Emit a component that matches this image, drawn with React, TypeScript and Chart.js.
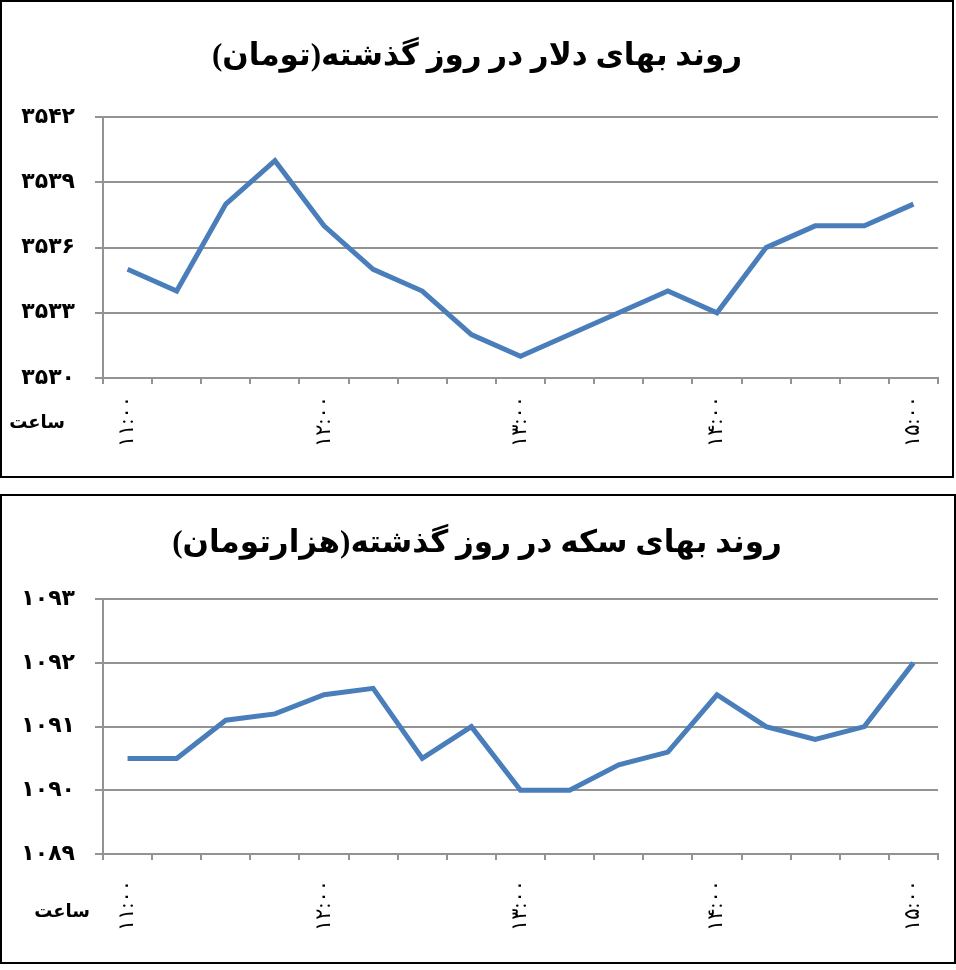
import React, { useEffect, useRef } from "react";
import { Chart, registerables } from "chart.js";

Chart.register(...registerables);

// ---- data ----
const hours: string[] = [
  "۱۱:۰۰", "۱۱:۱۵", "۱۱:۳۰", "۱۱:۴۵",
  "۱۲:۰۰", "۱۲:۱۵", "۱۲:۳۰", "۱۲:۴۵",
  "۱۳:۰۰", "۱۳:۱۵", "۱۳:۳۰", "۱۳:۴۵",
  "۱۴:۰۰", "۱۴:۱۵", "۱۴:۳۰", "۱۴:۴۵",
  "۱۵:۰۰",
];
const dollarValues: number[] = [
  3535, 3534, 3538, 3540, 3537, 3535, 3534, 3532, 3531,
  3532, 3533, 3534, 3533, 3536, 3537, 3537, 3538,
];
const coinValues: number[] = [
  1090.5, 1090.5, 1091.1, 1091.2, 1091.5, 1091.6, 1090.5, 1091, 1090,
  1090, 1090.4, 1090.6, 1091.5, 1091, 1090.8, 1091, 1092,
];
const dollarTitle = "روند بهای دلار در روز گذشته(تومان)";
const coinTitle = "روند بهای سکه در روز گذشته(هزارتومان)";
const xAxisName = "ساعت";
const dollarAxis = { min: 3530, max: 3542, step: 3 };
const coinAxis = { min: 1089, max: 1093, step: 1 };

const FONT = "'Times New Roman', 'Liberation Serif', 'DejaVu Sans', serif";
const GRID = "#939393";
const LINE = "#4a7ebb";

const faDigits = (v: number | string) =>
  String(v).replace(/\d/g, (d) => "۰۱۲۳۴۵۶۷۸۹"[Number(d)]);

type BoxProps = {
  top: number;
  width: number;
  height: number;
  title: string;
  values: number[];
  axis: { min: number; max: number; step: number };
  titlePad: { top: number; bottom: number };
  xHeight: number;
  nameGap: number;
  nameDy: number;
  tickPad: number;
};

const PAD_LEFT = 14;

function ChartBox(p: BoxProps) {
  const ref = useRef<HTMLCanvasElement | null>(null);
  useEffect(() => {
    if (!ref.current) return;
    const namePlugin = {
      id: "axisName",
      afterDraw(chart: any) {
        const xs = chart.scales.x;
        const ctx = chart.ctx;
        ctx.save();
        ctx.font = `bold 18px ${FONT}`;
        ctx.fillStyle = "#000";
        ctx.textAlign = "right";
        ctx.textBaseline = "middle";
        ctx.fillText(xAxisName, xs.left - p.nameGap, xs.top + p.nameDy);
        ctx.restore();
      },
    };
    const chart = new Chart(ref.current, {
      type: "line",
      data: {
        labels: hours,
        datasets: [
          {
            data: p.values,
            borderColor: LINE,
            borderWidth: 5,
            pointRadius: 0,
            tension: 0,
            fill: false,
            borderJoinStyle: "miter",
          },
        ],
      },
      options: {
        animation: false,
        responsive: false,
        devicePixelRatio: 1,
        layout: { padding: { left: PAD_LEFT, right: p.width - 936, top: 0, bottom: 0 } },
        plugins: {
          legend: { display: false },
          tooltip: { enabled: false },
          title: {
            display: true,
            text: p.title,
            color: "#000",
            font: { size: 31, weight: "bold", family: FONT, lineHeight: 1.2 },
            padding: p.titlePad,
          },
        },
        scales: {
          x: {
            offset: true,
            grid: {
              offset: true,
              drawOnChartArea: false,
              drawTicks: true,
              tickLength: 6,
              color: GRID,
              lineWidth: 2,
            },
            border: { display: true, color: GRID, width: 2 },
            ticks: {
              autoSkip: false,
              minRotation: 90,
              maxRotation: 90,
              padding: p.tickPad,
              color: "#000",
              font: { size: 21, weight: "normal", family: FONT },
              callback: (_v: any, i: number) => (i % 4 === 0 ? hours[i] : ""),
            },
            afterFit: (s: any) => {
              s.height = p.xHeight;
              s.paddingLeft = 0;
              s.paddingRight = 0;
            },
          },
          y: {
            min: p.axis.min,
            max: p.axis.max,
            grid: { color: GRID, lineWidth: 2, tickLength: 8 },
            border: { display: true, color: GRID, width: 2 },
            ticks: {
              stepSize: p.axis.step,
              padding: 20,
              color: "#000",
              font: { size: 22, weight: "bold", family: FONT },
              callback: (v: any) => faDigits(v),
            },
            afterFit: (s: any) => {
              s.width = 101 - PAD_LEFT;
            },
          },
        },
      },
      plugins: [namePlugin],
    } as any);
    return () => chart.destroy();
  }, []);
  return (
    <div
      style={{
        position: "absolute",
        left: 0,
        top: p.top,
        width: p.width,
        height: p.height,
        border: "2px solid #000",
        background: "#fff",
      }}
    >
      <canvas ref={ref} width={p.width} height={p.height} style={{ display: "block" }} />
    </div>
  );
}

export default function App() {
  useEffect(() => {
    document.body.style.margin = "0";
    document.body.style.background = "#fff";
  }, []);
  return (
    <div style={{ position: "relative", width: 956, height: 970 }}>
      <ChartBox
        top={0}
        width={950}
        height={474}
        title={dollarTitle}
        values={dollarValues}
        axis={dollarAxis}
        titlePad={{ top: 36, bottom: 42 }}
        xHeight={98}
        nameGap={38}
        nameDy={45}
        tickPad={12}
      />
      <ChartBox
        top={494}
        width={952}
        height={466}
        title={coinTitle}
        values={coinValues}
        axis={coinAxis}
        titlePad={{ top: 29, bottom: 37 }}
        xHeight={108}
        nameGap={13}
        nameDy={58}
        tickPad={20}
      />
    </div>
  );
}
